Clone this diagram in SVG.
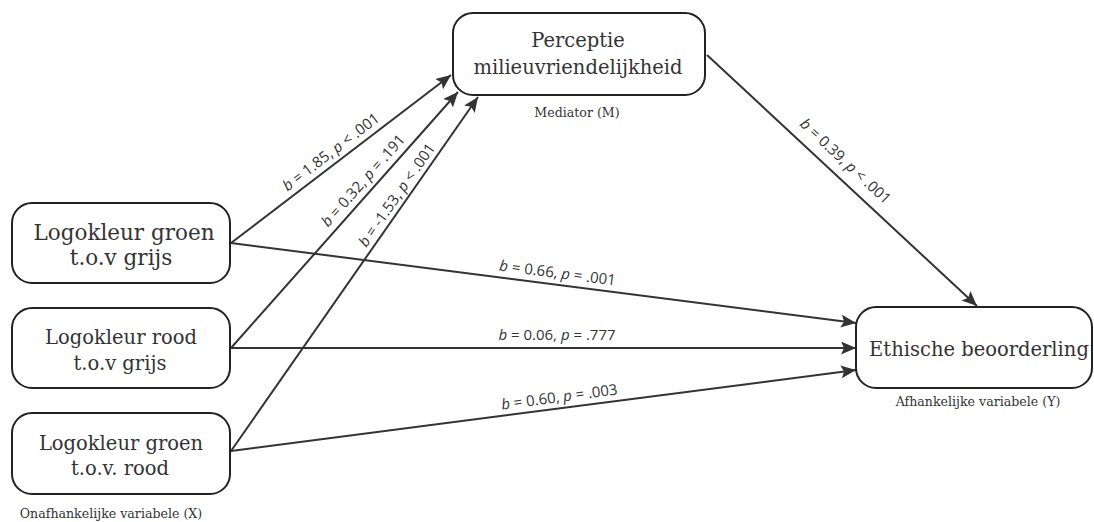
<svg xmlns="http://www.w3.org/2000/svg" width="1094" height="522" viewBox="0 0 1094 522">
<style>
.box{fill:#fff;stroke:#222;stroke-width:2}
.nt{font-family:"DejaVu Serif","Liberation Serif",serif;font-size:19.5px;fill:#333;text-anchor:middle}
.big{font-size:21.5px}
.sub{font-family:"DejaVu Serif","Liberation Serif",serif;font-size:12.6px;fill:#333;text-anchor:middle}
.edge{stroke:#333;stroke-width:2;fill:none;marker-end:url(#ah)}
.el{font-family:"Open Sans","Noto Sans",sans-serif;font-size:15px;fill:#333;text-anchor:middle}
.el tspan.i{font-style:italic}
</style>
<defs>
<marker id="ah" markerUnits="userSpaceOnUse" markerWidth="18" markerHeight="14" refX="15" refY="6.5" orient="auto">
<path d="M0,0 L15,6.5 L0,13 L3,6.5 z" fill="#333"/>
</marker>
</defs>
<rect width="1094" height="522" fill="#fff"/>
<g id="connectors">
<line class="edge" x1="231" y1="243" x2="451" y2="75"/>
<line class="edge" x1="231" y1="348" x2="458" y2="92"/>
<line class="edge" x1="231" y1="451" x2="478" y2="97"/>
<line class="edge" x1="707" y1="55" x2="977" y2="306"/>
<line class="edge" x1="231" y1="243" x2="856" y2="323"/>
<line class="edge" x1="231" y1="348" x2="856" y2="348"/>
<line class="edge" x1="231" y1="451" x2="856" y2="370"/>
<text class="el" transform="translate(334,156) rotate(-37.5)"><tspan class="i">b</tspan> = 1.85, <tspan class="i">p</tspan> &lt; .001</text>
<text class="el" transform="translate(367,184) rotate(-48.4)"><tspan class="i">b</tspan> = 0.32, <tspan class="i">p</tspan> = .191</text>
<text class="el" transform="translate(401,198) rotate(-55.2)"><tspan class="i">b</tspan> = -1.53, <tspan class="i">p</tspan> &lt; .001</text>
<text class="el" transform="translate(842,165) rotate(42.9)"><tspan class="i">b</tspan> = 0.39, <tspan class="i">p</tspan> &lt; .001</text>
<text class="el" transform="translate(557,278) rotate(7.3)"><tspan class="i">b</tspan> = 0.66, <tspan class="i">p</tspan> = .001</text>
<text class="el" x="557" y="340"><tspan class="i">b</tspan> = 0.06, <tspan class="i">p</tspan> = .777</text>
<text class="el" transform="translate(560,402) rotate(-7.6)"><tspan class="i">b</tspan> = 0.60, <tspan class="i">p</tspan> = .003</text>
</g>
<g id="x1">
<rect class="box" x="12" y="203" width="218" height="80" rx="20"/>
<text class="nt big" x="124" y="240">Logokleur groen</text>
<text class="nt big" x="121" y="265">t.o.v grijs</text>
</g>
<g id="x2">
<rect class="box" x="12" y="308" width="218" height="80" rx="20"/>
<text class="nt" x="121" y="344">Logokleur rood</text>
<text class="nt" x="120" y="370">t.o.v grijs</text>
</g>
<g id="x3">
<rect class="box" x="12" y="413" width="218" height="81" rx="20"/>
<text class="nt" x="121" y="450">Logokleur groen</text>
<text class="nt" x="120" y="475">t.o.v. rood</text>
<text class="sub" x="111" y="518">Onafhankelijke variabele (X)</text>
</g>
<g id="m">
<rect class="box" x="453" y="13" width="252" height="82" rx="20"/>
<text class="nt" x="578" y="47">Perceptie</text>
<text class="nt" x="578" y="74">milieuvriendelijkheid</text>
<text class="sub" x="577" y="117">Mediator (M)</text>
</g>
<g id="y">
<rect class="box" x="856" y="307" width="236" height="81" rx="20"/>
<text class="nt" x="979" y="356">Ethische beoorderling</text>
<text class="sub" x="978" y="406">Afhankelijke variabele (Y)</text>
</g>
</svg>
